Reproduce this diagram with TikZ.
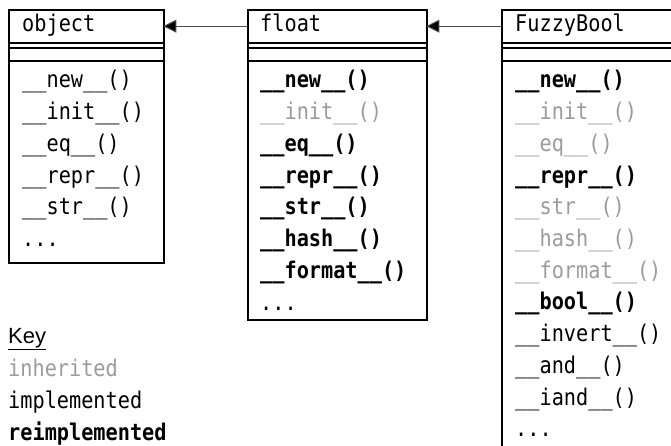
\documentclass[tikz,border=0pt]{standalone}
\usepackage{fontspec}
\newfontfamily\monof[FakeStretch=0.88]{DejaVu Sans Mono}
\newfontfamily\keyf{Liberation Sans}
\usetikzlibrary{arrows.meta}
\definecolor{inhgray}{RGB}{155,155,155}
\tikzset{
  frame/.style={draw, line width=2.2pt, inner sep=0pt, anchor=north west},
  sep/.style={line width=2.2pt},
  txt/.style={inner sep=0pt, anchor=base west, font=\monof\fontsize{23}{27}\selectfont},
  im/.style={txt, text=black},
  re/.style={txt, text=black, font=\monof\bfseries\fontsize{23}{27}\selectfont},
  inh/.style={txt, text=inhgray},
  keytxt/.style={inner sep=0pt, anchor=base west, font=\keyf\fontsize{22}{26}\selectfont},
  inharrow/.style={line width=1pt, draw=black!70, -{Triangle[length=13pt,width=13pt,fill=black]}}
}
\begin{document}
\begin{tikzpicture}[x=1pt,y=-1pt]
\useasboundingbox (0,0) rectangle (671,446);
\clip (0,0) rectangle (671,446);
% object
\node[frame, minimum width=155pt, minimum height=253pt] (objF) at (8,9) {};
\node[inner sep=0pt, minimum width=155pt, minimum height=34pt, anchor=north west] (objH) at (8,9) {};
\node[txt] (objT) at (22,32) {object};
\draw[sep] (8,43) -- (163,43) (8,48) -- (163,48) (8,61) -- (163,61);
\foreach \s/\t [count=\i from 0] in {im/new, im/init, im/eq, im/repr, im/str}
  \node[\s] (obj\i) at (22,88+31.7*\i) {\_\_\t\_\_()};
\node[im] (objD) at (22,246) {...};
% float
\node[frame, minimum width=179pt, minimum height=310pt] (fltF) at (247,9) {};
\node[inner sep=0pt, minimum width=179pt, minimum height=34pt, anchor=north west] (fltH) at (247,9) {};
\node[txt] (fltT) at (260,32) {float};
\draw[sep] (247,43) -- (426,43) (247,48) -- (426,48) (247,61) -- (426,61);
\foreach \s/\t [count=\i from 0] in {re/new, inh/init, re/eq, re/repr, re/str, re/hash, re/format}
  \node[\s] (flt\i) at (260,88+31.7*\i) {\_\_\t\_\_()};
\node[im] (fltD) at (260,310) {...};
% FuzzyBool
\node[frame, minimum width=200pt, minimum height=460pt] (fzF) at (501,9) {};
\node[inner sep=0pt, minimum width=200pt, minimum height=34pt, anchor=north west] (fzH) at (501,9) {};
\node[txt] (fzT) at (515,32) {FuzzyBool};
\draw[sep] (501,43) -- (701,43) (501,48) -- (701,48) (501,61) -- (701,61);
\foreach \s/\t [count=\i from 0] in {re/new, inh/init, inh/eq, re/repr, inh/str, inh/hash, inh/format, re/bool, im/invert, im/and, im/iand}
  \node[\s] (fz\i) at (515,88+31.7*\i) {\_\_\t\_\_()};
\node[im] (fzD) at (515,436.7) {...};
% inheritance arrows
\draw[inharrow] (fltH.west) -- (objH.east);
\draw[inharrow] (fzH.west) -- (fltH.east);
% key
\node[keytxt] (key) at (8,343) {\underline{Key}};
\node[inh] (kinh) at (8,376) {inherited};
\node[im] (kimp) at (8,408) {implemented};
\node[re] (kre) at (8,440) {reimplemented};
\end{tikzpicture}
\end{document}
